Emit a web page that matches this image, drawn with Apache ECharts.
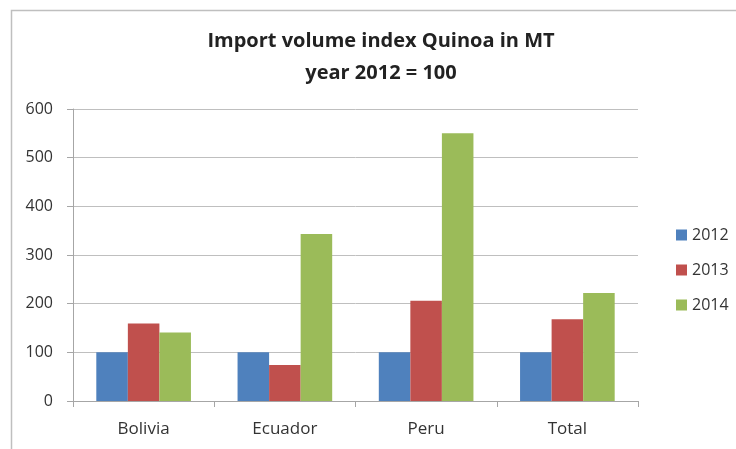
<!DOCTYPE html>
<html><head><meta charset="utf-8">
<script src="https://cdn.jsdelivr.net/npm/echarts@6/dist/echarts.min.js"></script>
<style>html,body{margin:0;padding:0;background:#fff}#c{width:736px;height:449px}</style>
</head><body><div id="c"></div>
<script>
const categories = ['Bolivia', 'Ecuador', 'Peru', 'Total'];
const seriesNames = ['2012', '2013', '2014'];
const values2012 = [100, 100, 100, 100];
const values2013 = [159, 74, 206, 168];
const values2014 = [141, 343, 550, 222];
const colors = ['#4F81BD', '#C0504D', '#9BBB59'];
const font = '"Open Sans", sans-serif';

const chart = echarts.init(document.getElementById('c'));
chart.setOption({
  animation: false,
  graphic: [{
    type: 'rect', left: 9, top: 8,
    shape: { width: 740, height: 450 },
    style: { fill: 'none', stroke: '#BFBFBF', lineWidth: 1.5 }
  }],
  title: {
    text: 'Import volume index Quinoa in MT\nyear 2012 = 100',
    left: 376, top: 20, textAlign: 'center',
    textStyle: { fontFamily: font, fontWeight: 'bold', fontSize: 20, color: '#222', lineHeight: 32 }
  },
  legend: {
    orient: 'vertical', left: 671, top: 222, itemGap: 19,
    itemWidth: 11, itemHeight: 11, icon: 'rect',
    textStyle: { fontFamily: font, fontSize: 16, color: '#333' },
    data: seriesNames
  },
  grid: { left: 73, right: 98, top: 109, bottom: 48 },
  xAxis: {
    type: 'category', data: categories,
    axisLine: { lineStyle: { color: '#A6A6A6' } },
    axisTick: { show: true, length: 6, lineStyle: { color: '#A6A6A6' } },
    axisLabel: { fontFamily: font, fontSize: 17, color: '#333', margin: 20 }
  },
  yAxis: {
    type: 'value', min: 0, max: 600, interval: 100,
    axisLine: { show: true, lineStyle: { color: '#A6A6A6' } },
    axisTick: { show: true, length: 6, lineStyle: { color: '#A6A6A6' } },
    axisLabel: { fontFamily: font, fontSize: 16, color: '#333', margin: 20 },
    splitLine: { lineStyle: { color: '#BFBFBF' } }
  },
  series: [
    { name: seriesNames[0], type: 'bar', data: values2012, itemStyle: { color: colors[0] }, barGap: '0%', barCategoryGap: '33%' },
    { name: seriesNames[1], type: 'bar', data: values2013, itemStyle: { color: colors[1] }, barGap: '0%', barCategoryGap: '33%' },
    { name: seriesNames[2], type: 'bar', data: values2014, itemStyle: { color: colors[2] }, barGap: '0%', barCategoryGap: '33%' }
  ]
});
</script></body></html>
